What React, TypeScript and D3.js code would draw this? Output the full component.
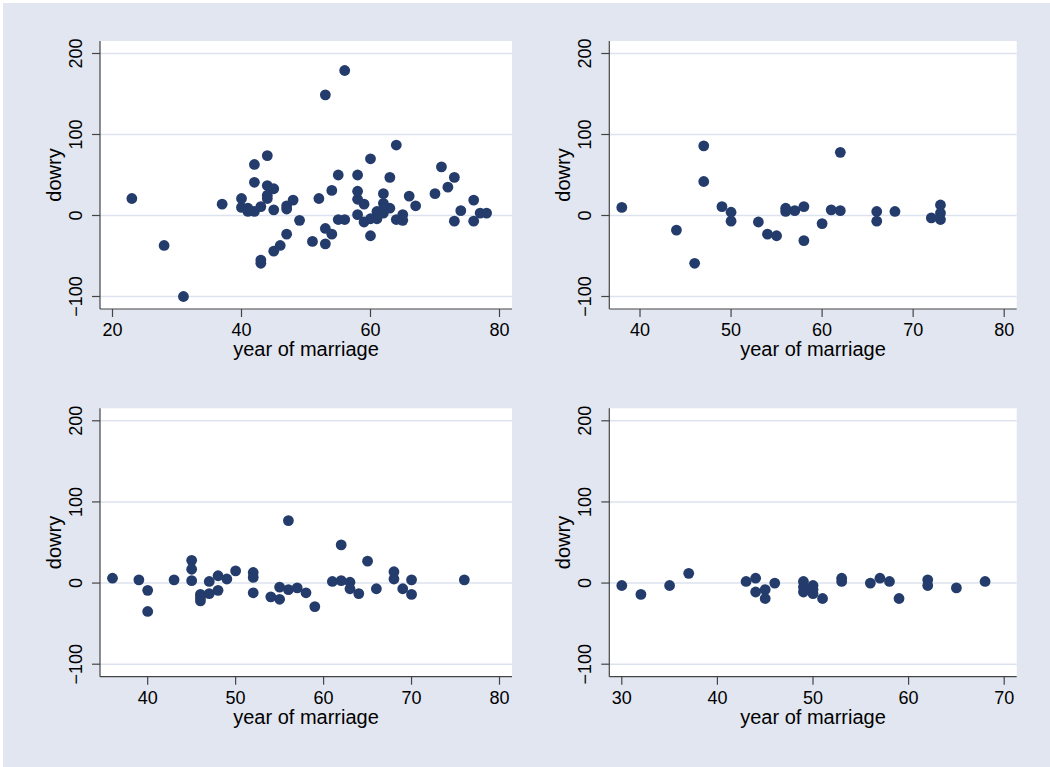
import React from 'react';
import * as d3 from 'd3';

// panel data: year of marriage / dowry
const year1 = [23, 28, 31, 37, 40, 40, 41, 41, 42, 42, 42, 43, 43, 43, 44, 44, 44, 44, 45, 45, 45, 46, 47, 47, 47, 48, 49, 51, 52, 53, 53, 53, 54, 54, 55, 55, 56, 56, 58, 58, 58, 58, 59, 59, 60, 60, 60, 61, 61, 62, 62, 62, 62, 63, 63, 64, 64, 65, 65, 66, 67, 70, 71, 72, 73, 73, 74, 76, 76, 77, 78];
const dowry1 = [21, -37, -100, 14, 21, 10, 9, 5, 63, 41, 5, 11, -55, -59, 74, 37, 25, 21, 33, 7, -44, -37, 12, 8, -23, 19, -6, -32, 21, 149, -16, -35, 31, -23, 50, -5, 179, -5, 50, 30, 20, 1, 14, -8, 70, -4, -25, 5, -4, 27, 15, 3, 8, 47, 9, 87, -5, 1, -6, 24, 12, 27, 60, 35, 47, -7, 6, 19, -7, 3, 3];

const year2 = [38, 44, 46, 47, 47, 49, 50, 50, 53, 54, 55, 56, 56, 57, 58, 58, 60, 61, 62, 62, 66, 66, 68, 72, 73, 73, 73];
const dowry2 = [10, -18, -59, 86, 42, 11, 4, -7, -8, -23, -25, 9, 5, 6, 11, -31, -10, 7, 78, 6, 5, -7, 5, -3, 13, 3, -5];

const year3 = [36, 39, 40, 40, 43, 45, 45, 45, 46, 46, 46, 47, 47, 48, 48, 49, 50, 52, 52, 52, 54, 55, 55, 56, 56, 57, 58, 59, 61, 62, 62, 63, 63, 64, 65, 66, 68, 68, 69, 70, 70, 76];
const dowry3 = [6, 4, -9, -35, 4, 28, 17, 3, -14, -18, -22, 2, -13, 9, -9, 5, 15, 13, 7, -12, -17, -5, -20, 77, -8, -6, -12, -29, 2, 47, 3, 1, -7, -13, 27, -7, 14, 5, -7, 4, -14, 4];

const year4 = [30, 32, 35, 37, 43, 44, 44, 45, 45, 46, 49, 49, 49, 50, 50, 50, 51, 53, 53, 56, 57, 58, 59, 62, 62, 65, 68];
const dowry4 = [-3, -14, -3, 12, 2, 6, -11, -8, -19, 0, 2, -5, -11, -3, -8, -13, -19, 6, 2, 0, 6, 2, -19, 4, -3, -6, 2];

const xTicks1 = [20, 40, 60, 80];
const xTicks2 = [40, 50, 60, 70, 80];
const xTicks3 = [40, 50, 60, 70, 80];
const xTicks4 = [30, 40, 50, 60, 70];
const yTicks = [-100, 0, 100, 200];

const W = 1050;
const H = 767;
const PAD = 12.5;
const FONT = '"Liberation Sans", Arial, Helvetica, sans-serif';
const BG = '#e1e6f0';
const GRID = '#dde3ee';
const DOT = '#243c6c';
const AXIS = '#444';

const panels = [
  { xs: year1, ys: dowry1, ticks: xTicks1, left: 100, right: 512, top: 41, bottom: 309 },
  { xs: year2, ys: dowry2, ticks: xTicks2, left: 609.3, right: 1016.7, top: 41, bottom: 309 },
  { xs: year3, ys: dowry3, ticks: xTicks3, left: 100, right: 512, top: 408.3, bottom: 676.7 },
  { xs: year4, ys: dowry4, ticks: xTicks4, left: 609.3, right: 1016.7, top: 408.3, bottom: 676.7 },
];

const fmt = d3.format('d');

function Panel({ xs, ys, ticks, left, right, top, bottom }) {
  const lo = Math.min(d3.min(xs), d3.min(ticks));
  const hi = Math.max(d3.max(xs), d3.max(ticks));
  const x = d3.scaleLinear().domain([lo, hi]).range([left + PAD, right - PAD]);
  const y = d3.scaleLinear().domain([-100, 200]).range([bottom - PAD, top + PAD]);
  const cx = (left + right) / 2;
  const cy = (top + bottom) / 2;

  return (
    <g>
      <rect x={left} y={top} width={right - left} height={bottom - top} fill="#fff" />
      {yTicks.map(t => (
        <line key={'g' + t} x1={left} x2={right} y1={y(t)} y2={y(t)} stroke={GRID} strokeWidth={1.5} />
      ))}
      {xs.map((v, i) => (
        <circle key={i} cx={x(v)} cy={y(ys[i])} r={5.4} fill={DOT} />
      ))}
      <line x1={left} x2={left} y1={top} y2={bottom} stroke={AXIS} strokeWidth={1.2} />
      <line x1={left} x2={right} y1={bottom} y2={bottom} stroke={AXIS} strokeWidth={1.2} />
      {yTicks.map(t => (
        <g key={'y' + t}>
          <line x1={left - 8} x2={left} y1={y(t)} y2={y(t)} stroke={AXIS} strokeWidth={1.2} />
          <text transform={`translate(${left - 18},${y(t)}) rotate(-90)`} textAnchor="middle"
            fontSize={18} fontFamily={FONT} fill="#000">{fmt(t)}</text>
        </g>
      ))}
      {ticks.map(t => (
        <g key={'x' + t}>
          <line x1={x(t)} x2={x(t)} y1={bottom} y2={bottom + 8} stroke={AXIS} strokeWidth={1.2} />
          <text x={x(t)} y={bottom + 27} textAnchor="middle" fontSize={18} fontFamily={FONT} fill="#000">{fmt(t)}</text>
        </g>
      ))}
      <text x={cx} y={bottom + 47} textAnchor="middle" fontSize={20} fontFamily={FONT} fill="#000">year of marriage</text>
      <text transform={`translate(${left - 39},${cy}) rotate(-90)`} textAnchor="middle"
        fontSize={20} fontFamily={FONT} fill="#000">dowry</text>
    </g>
  );
}

export default function App() {
  return (
    <svg width={W} height={H} style={{ position: 'absolute', left: 0, top: 0, background: '#fff' }}>
      <rect x={3} y={3} width={W - 3} height={H - 3} fill={BG} />
      {panels.map((p, i) => <Panel key={i} {...p} />)}
    </svg>
  );
}
